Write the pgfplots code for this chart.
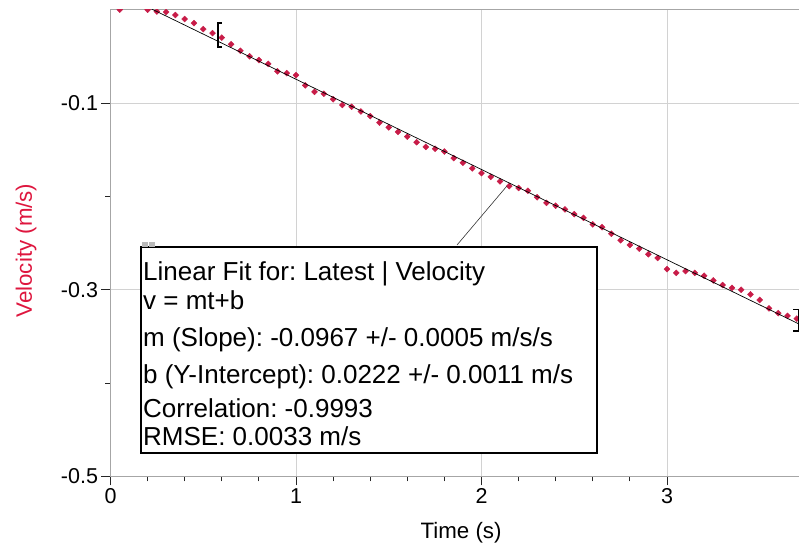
\documentclass[border=0pt]{standalone}
\usepackage{fontspec}
\setmainfont{Liberation Sans}
\usepackage{pgfplots}
\usepackage{pgfplotstable}
\pgfplotsset{compat=1.18}
\frenchspacing

\definecolor{veldot}{RGB}{200,28,72}
\definecolor{vellab}{RGB}{222,22,62}

% Latest | Velocity
\pgfplotstableread{
t v
0.00 0.004
0.05 0.000
0.10 0.004
0.15 0.004
0.20 0.000
0.25 -0.0020
0.30 -0.0025
0.35 -0.0057
0.40 -0.0100
0.45 -0.0143
0.50 -0.0207
0.55 -0.0250
0.60 -0.0300
0.65 -0.0370
0.70 -0.0440
0.75 -0.0500
0.80 -0.0540
0.85 -0.0580
0.90 -0.0660
0.95 -0.0680
1.00 -0.0700
1.05 -0.0810
1.10 -0.0880
1.15 -0.0900
1.20 -0.0960
1.25 -0.1020
1.30 -0.1040
1.35 -0.1090
1.40 -0.1140
1.45 -0.1210
1.50 -0.1260
1.55 -0.1310
1.60 -0.1360
1.65 -0.1420
1.70 -0.1470
1.75 -0.1490
1.80 -0.1520
1.85 -0.1590
1.90 -0.1640
1.95 -0.1700
2.00 -0.1750
2.05 -0.1790
2.10 -0.1840
2.15 -0.1890
2.20 -0.1910
2.25 -0.1940
2.30 -0.2010
2.35 -0.2070
2.40 -0.2100
2.45 -0.2140
2.50 -0.2190
2.55 -0.2230
2.60 -0.2300
2.65 -0.2330
2.70 -0.2400
2.75 -0.2470
2.80 -0.2520
2.85 -0.2560
2.90 -0.2620
2.95 -0.2660
3.00 -0.2780
3.05 -0.2820
3.10 -0.2800
3.15 -0.2820
3.20 -0.2850
3.25 -0.2900
3.30 -0.2950
3.35 -0.2980
3.40 -0.3000
3.45 -0.3050
3.50 -0.3110
3.55 -0.3200
3.60 -0.3250
3.65 -0.3280
3.70 -0.3310
}\veldata

\begin{document}
\begin{tikzpicture}
\begin{axis}[
    scale only axis,
    width=695.6pt, height=466.7pt,
    xmin=0, xmax=3.75, ymin=-0.5, ymax=0,
    xtick={0,1,2,3}, xticklabels={0,1,2,3},
    minor x tick num=4,
    ytick={-0.5,-0.3,-0.1}, yticklabels={-0.5,-0.3,-0.1},
    minor ytick={-0.4,-0.2},
    xtick pos=bottom, ytick pos=left,
    tick align=outside,
    major tick length=9pt, minor tick length=5pt,
    tick style={black!85, line width=0.8pt},
    grid=major,
    major grid style={gray!35, line width=0.8pt},
    axis line style={gray!70, line width=1.6pt},
    tick label style={font=\fontsize{21.5}{24}\selectfont},
    label style={font=\fontsize{22.3}{25}\selectfont},
    xlabel={Time (s)}, ylabel={Velocity (m/s)},
    xlabel style={at={(axis description cs:0.504,-0.1329)}, anchor=base},
    ylabel style={text=vellab, at={(axis description cs:-0.1129,0.484)}, anchor=base},
    clip marker paths=true,
]
\addplot[veldot, only marks, mark=square*, mark size=2.1pt, mark options={rotate=45}] table {\veldata};
% linear fit v = -0.0967 t + 0.0222
\addplot[black, line width=0.7pt] coordinates {(0,0.0222) (3.75,-0.340425)};

% fit range brackets
\draw[black, line width=1.6pt] (axis cs:0.60,-0.0143) -- (axis cs:0.58,-0.0143) -- (axis cs:0.58,-0.040) -- (axis cs:0.60,-0.040);
\draw[black, line width=1.6pt] (axis cs:3.68,-0.321) -- (axis cs:3.713,-0.321) -- (axis cs:3.713,-0.3443) -- (axis cs:3.68,-0.3443);

% fit info box
\draw[black!80, line width=0.6pt] (axis cs:1.868,-0.2521) -- (axis cs:2.137,-0.1889);
\draw[black, line width=1.8pt, fill=white] (axis cs:0.164,-0.2543) rectangle (axis cs:2.622,-0.4750);
\fill[gray!55] (axis cs:0.172,-0.2490) rectangle (axis cs:0.200,-0.2545);
\fill[gray!55] (axis cs:0.210,-0.2490) rectangle (axis cs:0.238,-0.2545);
\begin{scope}[every node/.style={anchor=base west, inner sep=0pt, font=\fontsize{26}{29}\selectfont}]
\node at (axis cs:0.175,-0.2896) {Linear Fit for: Latest | Velocity};
\node at (axis cs:0.175,-0.3207) {v = mt+b};
\node at (axis cs:0.175,-0.3603) {m (Slope): -0.0967 +/- 0.0005 m/s/s};
\node at (axis cs:0.175,-0.4000) {b (Y-Intercept): 0.0222 +/- 0.0011 m/s};
\node at (axis cs:0.175,-0.4364) {Correlation: -0.9993};
\node at (axis cs:0.175,-0.4664) {RMSE: 0.0033 m/s};
\end{scope}
\end{axis}
\pgfresetboundingbox
\path (-110.5pt,-72pt) rectangle (688.5pt,476.4pt);
\end{tikzpicture}
\end{document}
